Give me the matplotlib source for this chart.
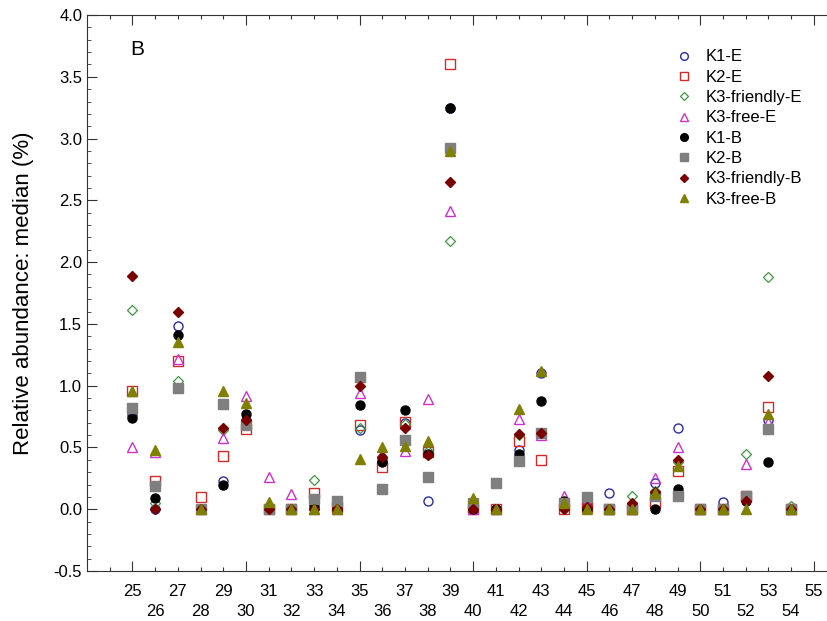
import numpy as np
import matplotlib
matplotlib.use('Agg')
from matplotlib import pyplot as plt
from matplotlib.ticker import MultipleLocator

plt.rcParams['font.family'] = ['Liberation Sans', 'DejaVu Sans']

positions = list(range(25, 55))

k1_e = [0.76, 0.00, 1.48, 0.00, 0.23, 0.72, 0.00, 0.00, 0.00, 0.00,
        0.64, 0.40, 0.70, 0.07, 3.25, 0.00, 0.00, 0.48, 1.10, 0.02,
        0.03, 0.13, 0.00, 0.21, 0.66, 0.00, 0.06, 0.10, 0.72, 0.00]
k2_e = [0.96, 0.23, 1.20, 0.10, 0.43, 0.65, 0.00, 0.00, 0.13, 0.02,
        0.68, 0.34, 0.71, 0.46, 3.60, 0.00, 0.00, 0.55, 0.40, 0.00,
        0.02, 0.00, 0.00, 0.05, 0.31, 0.00, 0.00, 0.11, 0.83, 0.00]
k3_friendly_e = [1.61, 0.05, 1.04, 0.00, 0.64, 0.70, 0.00, 0.00, 0.24, 0.00,
                 0.66, 0.42, 0.69, 0.47, 2.17, 0.00, 0.00, 0.60, 0.62, 0.00,
                 0.00, 0.00, 0.11, 0.15, 0.38, 0.00, 0.00, 0.45, 1.88, 0.03]
k3_free_e = [0.50, 0.46, 1.22, 0.00, 0.58, 0.92, 0.26, 0.12, 0.00, 0.00,
             0.94, 0.45, 0.47, 0.89, 2.41, 0.00, 0.00, 0.73, 0.60, 0.11,
             0.05, 0.00, 0.00, 0.25, 0.50, 0.00, 0.00, 0.37, 0.71, 0.00]
k1_b = [0.74, 0.09, 1.41, 0.00, 0.20, 0.77, 0.00, 0.00, 0.03, 0.00,
        0.84, 0.38, 0.80, 0.45, 3.25, 0.00, 0.00, 0.45, 0.88, 0.07,
        0.00, 0.00, 0.00, 0.00, 0.16, 0.00, 0.00, 0.07, 0.38, 0.00]
k2_b = [0.82, 0.19, 0.98, 0.00, 0.85, 0.68, 0.00, 0.00, 0.08, 0.07,
        1.07, 0.16, 0.56, 0.26, 2.92, 0.05, 0.21, 0.39, 0.62, 0.05,
        0.10, 0.00, 0.00, 0.11, 0.11, 0.00, 0.00, 0.11, 0.65, 0.00]
k3_friendly_b = [1.89, 0.00, 1.60, 0.00, 0.66, 0.72, 0.00, 0.00, 0.00, 0.00,
                 1.00, 0.42, 0.66, 0.44, 2.65, 0.00, 0.00, 0.61, 0.62, 0.00,
                 0.02, 0.00, 0.05, 0.14, 0.40, 0.00, 0.00, 0.07, 1.08, 0.00]
k3_free_b = [0.96, 0.48, 1.35, 0.00, 0.96, 0.86, 0.06, 0.00, 0.00, 0.00,
             0.41, 0.50, 0.51, 0.55, 2.90, 0.09, 0.00, 0.81, 1.12, 0.05,
             0.00, 0.00, 0.00, 0.13, 0.35, 0.00, 0.00, 0.00, 0.77, 0.00]

series = [
    ('K1-E', k1_e, dict(marker='o', mfc='none', mec='#2b2ba6', ms=6.5, mew=1.0)),
    ('K2-E', k2_e, dict(marker='s', mfc='none', mec='#d42a2a', ms=6.5, mew=1.0)),
    ('K3-friendly-E', k3_friendly_e, dict(marker='D', mfc='none', mec='#3f9a3f', ms=5, mew=0.9)),
    ('K3-free-E', k3_free_e, dict(marker='^', mfc='none', mec='#d030d0', ms=7, mew=1.0)),
    ('K1-B', k1_b, dict(marker='o', mfc='black', mec='black', ms=6.5)),
    ('K2-B', k2_b, dict(marker='s', mfc='#7f7f7f', mec='#7f7f7f', ms=6.5)),
    ('K3-friendly-B', k3_friendly_b, dict(marker='D', mfc='#7a0000', mec='#7a0000', ms=5)),
    ('K3-free-B', k3_free_b, dict(marker='^', mfc='#7f7f00', mec='#7f7f00', ms=7)),
]

fig = plt.figure(figsize=(8.27, 6.21), dpi=100)
ax = fig.add_axes([0.1052, 0.0805, 0.8948, 0.8953])

for name, vals, style in series:
    ax.plot(positions, vals, ls='none', label=name, **style)

ax.set_xlim(23, 55.58)
ax.set_ylim(-0.5, 4.0)

# x labels: odd on the first row, even on the second
xt = list(range(24, 56))
xl = ['' if v == 24 else (str(v) if v % 2 else '\n' + str(v)) for v in xt]
ax.set_xticks(xt)
ax.set_xticklabels(xl, linespacing=1.45)
ax.tick_params(axis='x', which='major', direction='in', length=3, top=True,
               labelsize=12, pad=9, color='#333333')
for t, v in zip(ax.xaxis.get_major_ticks(), xt):
    if v % 5 == 0:
        t.tick1line.set_markersize(7)
        t.tick2line.set_markersize(7)

ax.yaxis.set_major_locator(MultipleLocator(0.5))
ax.yaxis.set_minor_locator(MultipleLocator(0.1))
ax.set_yticks(np.arange(-0.5, 4.01, 0.5))
ax.set_yticklabels([f'{v:.1f}' for v in np.arange(-0.5, 4.01, 0.5)])
ax.tick_params(axis='y', which='major', direction='in', length=7, labelsize=12,
               color='#333333')
ax.tick_params(axis='y', which='minor', direction='in', length=3, color='#333333')

for s in ax.spines.values():
    s.set_color('#333333')
ax.spines['right'].set_visible(False)

ax.set_ylabel('Relative abundance: median (%)', fontsize=16, labelpad=14)
ax.text(0.058, 0.955, 'B', transform=ax.transAxes, fontsize=15,
        ha='left', va='top')

ax.legend(loc='upper left', bbox_to_anchor=(0.786, 0.95), frameon=False,
          fontsize=12, handlelength=1.0, handletextpad=0.8, labelspacing=0.32,
          borderaxespad=0, markerscale=0.85)

fig.savefig('out.png', dpi=100)
